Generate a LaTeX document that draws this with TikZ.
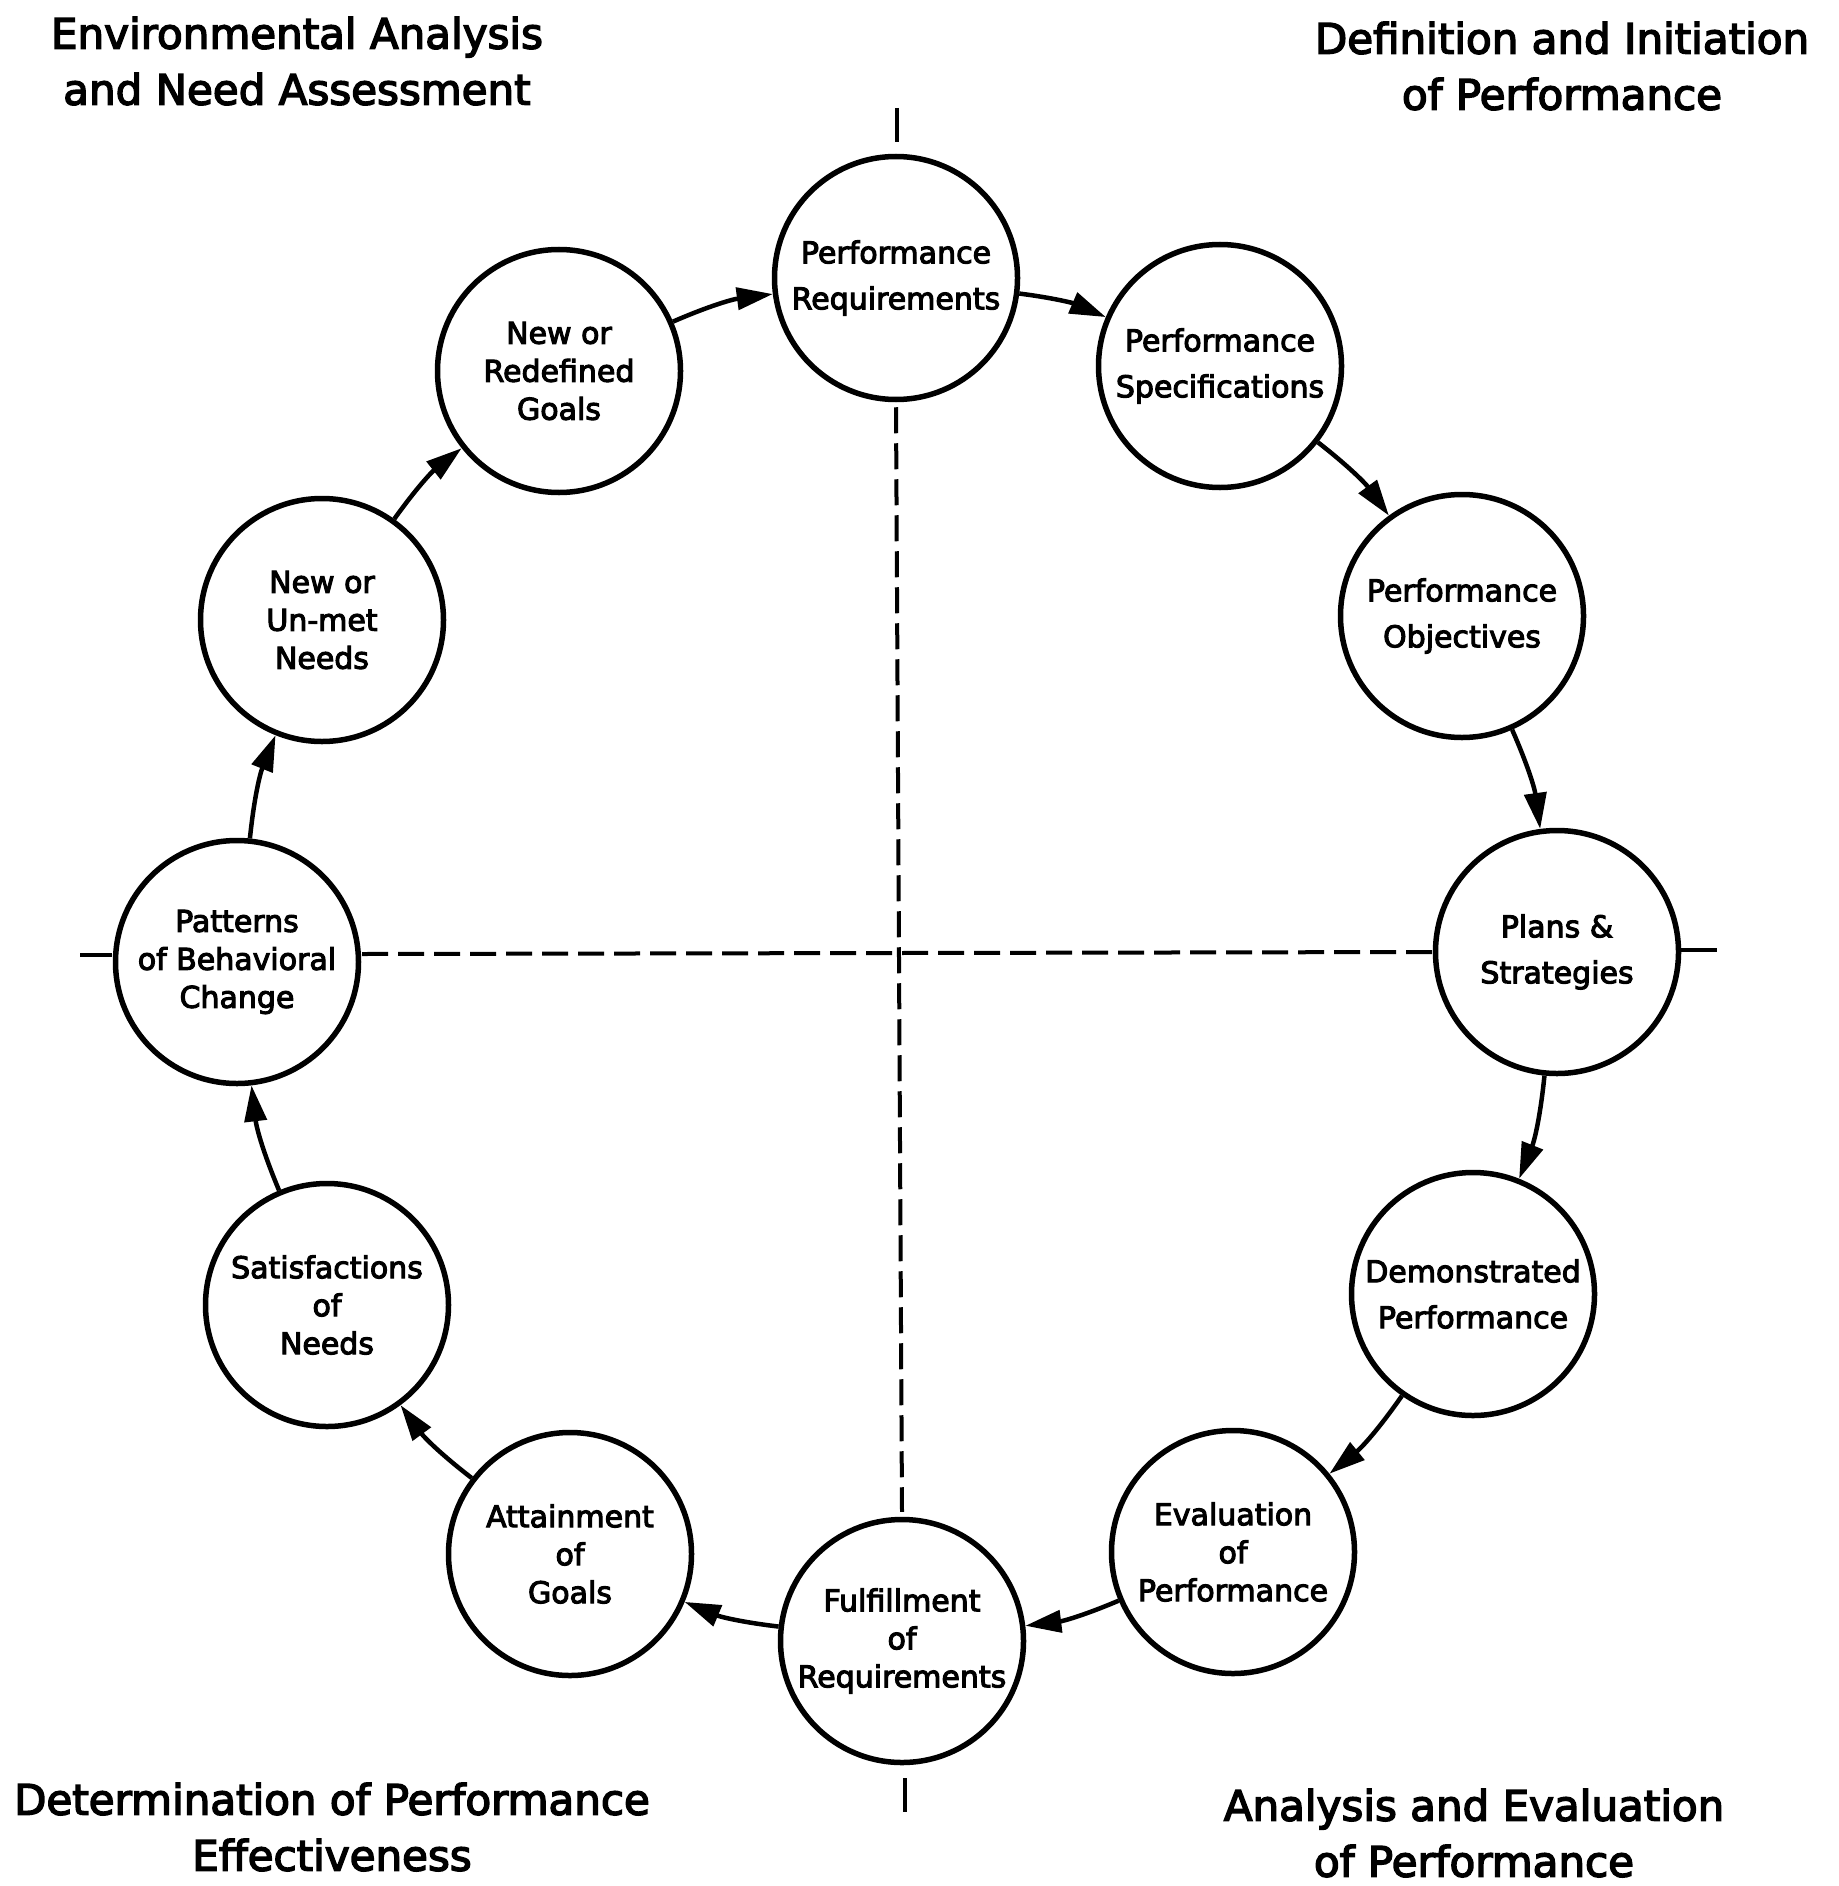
\documentclass[tikz,border=0pt]{standalone}
\usepackage{fontspec}
\setmainfont{DejaVu Sans}[UprightFeatures={FakeBold=3.5}]
\usetikzlibrary{arrows.meta}
\begin{document}
\begin{tikzpicture}[x=1pt,y=-1pt,
  stage/.style={circle, draw, line width=5.5pt, minimum size=243pt, inner sep=0pt,
    align=center, font=\fontsize{30}{38}\selectfont},
  stagetwo/.style={stage, font=\fontsize{30}{46}\selectfont},
  flow/.style={line width=4.5pt, -{Triangle[length=36pt,width=22pt]}, bend left=8},
  phase/.style={align=center, font=\fontsize{42}{56}\selectfont},
  axis/.style={line width=4pt},
  axisdash/.style={axis, dash pattern=on 26pt off 10pt}]

% page
\useasboundingbox (0,0) rectangle (1838,1886);
\fill[white] (0,0) rectangle (1838,1886);

% the twelve stages of the cycle
\node[stagetwo] (req)    at (896,278)   {Performance\\Requirements};
\node[stagetwo] (spec)   at (1220,366)  {Performance\\Specifications};
\node[stagetwo] (obj)    at (1462,616)  {Performance\\Objectives};
\node[stagetwo] (plan)   at (1557,952)  {Plans \&\\Strategies};
\node[stagetwo] (demo)   at (1473,1294) {Demonstrated\\Performance};
\node[stage]    (eval)   at (1233,1552) {Evaluation\\of\\Performance};
\node[stage]    (fulfil) at (902,1641)  {Fulfillment\\of\\Requirements};
\node[stage]    (attain) at (570,1554)  {Attainment\\of\\Goals};
\node[stage]    (satis)  at (327,1305)  {Satisfactions\\of\\Needs};
\node[stage]    (patt)   at (237,962)   {Patterns\\of Behavioral\\Change};
\node[stage]    (needs)  at (322,620)   {New or\\Un-met\\Needs};
\node[stage]    (goals)  at (559,371)   {New or\\Redefined\\Goals};

% clockwise flow
\draw[flow] (goals)  to (req);
\draw[flow] (req)    to (spec);
\draw[flow] (spec)   to (obj);
\draw[flow] (obj)    to (plan);
\draw[flow] (plan)   to (demo);
\draw[flow] (demo)   to (eval);
\draw[flow] (eval)   to (fulfil);
\draw[flow] (fulfil) to (attain);
\draw[flow] (attain) to (satis);
\draw[flow] (satis)  to (patt);
\draw[flow] (patt)   to (needs);
\draw[flow] (needs)  to (goals);

% quadrant axes
\coordinate (vtopA) at (897,108);
\coordinate (vtopB) at (897,142);
\coordinate (vbotA) at (905,1778);
\coordinate (vbotB) at (905,1812);
\coordinate (hleftA) at (80,955);
\coordinate (hleftB) at (112,955);
\coordinate (hmidA) at (362,954);
\coordinate (hmidB) at (1434,952);
\coordinate (hrightA) at (1680,950);
\coordinate (hrightB) at (1717,950);
\draw[axis] (vtopA) -- (vtopB);
\draw[axisdash] ([yshift=-5pt]req.south) -- ([yshift=5pt]fulfil.north);
\draw[axis] (vbotA) -- (vbotB);
\draw[axis] (hleftA) -- (hleftB);
\draw[axisdash] (hmidA) -- (hmidB);
\draw[axis] (hrightA) -- (hrightB);

% phase headings
\node[phase] (envlabel) at (297,61)   {Environmental Analysis\\and Need Assessment};
\node[phase] (deflabel) at (1562,66)  {Definition and Initiation\\of Performance};
\node[phase] (detlabel) at (332,1827) {Determination of Performance\\Effectiveness};
\node[phase] (analabel) at (1474,1833) {Analysis and Evaluation\\of Performance};
\end{tikzpicture}
\end{document}
